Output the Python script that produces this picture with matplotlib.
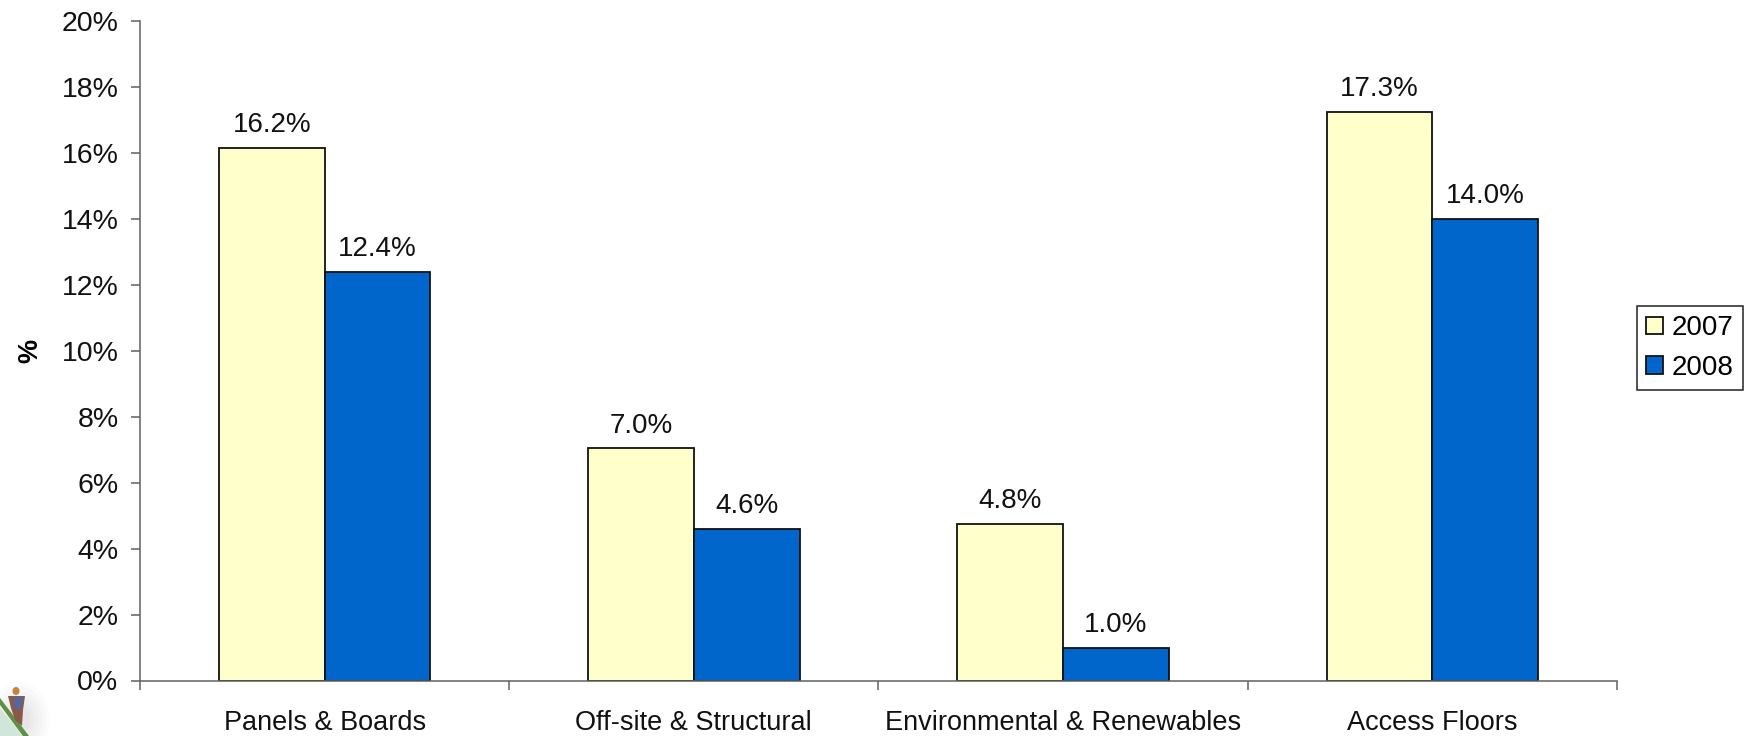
import matplotlib
matplotlib.use("Agg")
import matplotlib.pyplot as plt
from matplotlib.patches import Polygon, Ellipse
import numpy as np

categories = ["Panels & Boards", "Off-site & Structural", "Environmental & Renewables", "Access Floors"]
series_names = ["2007", "2008"]
values_2007 = [16.15, 7.05, 4.75, 17.25]
values_2008 = [12.4, 4.6, 1.0, 14.0]
labels_2007 = ["16.2%", "7.0%", "4.8%", "17.3%"]
labels_2008 = ["12.4%", "4.6%", "1.0%", "14.0%"]
yticks = list(range(0, 21, 2))

plt.rcParams['font.family'] = ['Liberation Sans', 'DejaVu Sans']
W, H = 1749, 736
FS = 19.5
fig = plt.figure(figsize=(W/100, H/100), dpi=100)
L, R, T, B = 140, 1617, 21, 680.5
ax = fig.add_axes([L/W, 1-B/H, (R-L)/W, (B-T)/H])
x = np.arange(4)
w = 0.2865
b1 = ax.bar(x-w/2, values_2007, w, color="#FFFFCC", edgecolor="#111111", linewidth=1.3, label=series_names[0])
b2 = ax.bar(x+w/2, values_2008, w, color="#0066CC", edgecolor="#111111", linewidth=1.3, label=series_names[1])
for r, t in zip(list(b1)+list(b2), labels_2007+labels_2008):
    ax.annotate(t, (r.get_x()+r.get_width()/2, r.get_height()), xytext=(0, 9.5), textcoords="offset pixels",
                ha="center", va="bottom", fontsize=20, color="#111111")
ax.set_xlim(-0.5, 3.5)
ax.set_ylim(0, 20)
ax.set_yticks(yticks)
ax.set_yticklabels([f"{v}%" for v in yticks], fontsize=20.5, color="#111111")
ax.set_xticks([-0.5, 0.5, 1.5, 2.5, 3.5])
ax.set_xticklabels([])
ax.set_xticks(x, minor=True)
ax.set_xticklabels(categories, minor=True, fontsize=FS, color="#111111")
ax.tick_params(axis="x", which="minor", length=0, pad=21)
ax.tick_params(axis="x", which="major", length=6.5, width=1.1, color="#606060", direction="out")
ax.tick_params(axis="y", length=6.5, width=1.1, color="#606060", direction="out", pad=9)
ax.spines[["top", "right"]].set_visible(False)
ax.spines[["left", "bottom"]].set_color("#606060")
ax.spines[["left", "bottom"]].set_linewidth(1.1)
ax.set_ylabel("%", fontsize=FS, fontweight="bold", labelpad=13)
leg = fig.legend(handles=[b1, b2], labels=series_names, loc="upper left", bbox_to_anchor=(1637/W, 1-306/H),
                 fontsize=20, frameon=True, fancybox=False, edgecolor="#222222", framealpha=1,
                 handlelength=0.6, handleheight=0.6, handletextpad=0.32, labelspacing=0.5, borderpad=0.33, borderaxespad=0)
leg.get_frame().set_linewidth(1.1)

# small decorative corner picture (grey glow, green stem, little figure)
deco = fig.add_axes([0, 0, 70/W, 66/H])
deco.set_xlim(0, 70)
deco.set_ylim(66, 0)
deco.axis("off")
deco.patch.set_alpha(0)
for rx, a in zip([46, 40, 34, 28, 22, 16], [0.025, 0.03, 0.035, 0.04, 0.05, 0.06]):
    deco.add_patch(Ellipse((20, 50), rx*1.3, rx*1.7, color="#8E9A98", alpha=a, lw=0))
deco.add_patch(Polygon([(0, 38), (0, 66), (22, 66)], color="#CFE6D8", lw=0))
deco.add_patch(Polygon([(0, 28), (0, 35), (23, 66), (29, 66)], color="#5F8F45", lw=0))
deco.add_patch(Polygon([(8, 26), (25, 26), (23, 40), (22, 56), (15, 50), (11, 38)], color="#8A5A48", lw=0))
deco.add_patch(Polygon([(13, 27), (23, 27), (21, 39), (15, 39)], color="#55659E", lw=0))
deco.add_patch(Ellipse((16, 21), 7, 8, color="#C8803C", lw=0))
fig.savefig("out.png", dpi=100)
